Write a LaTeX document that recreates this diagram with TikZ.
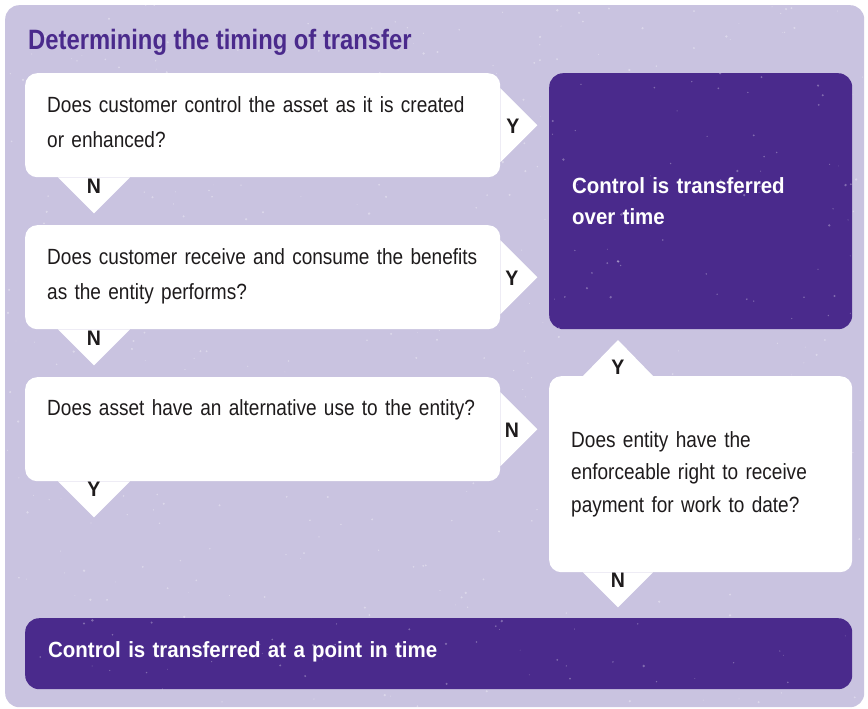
\documentclass[tikz,border=0pt]{standalone}
\usepackage{fontspec}
\setmainfont{Liberation Sans}
\newfontfamily\qfont[FakeStretch=0.865]{Liberation Sans}
\newfontfamily\hfont[FakeStretch=0.85]{Liberation Sans}
\newfontfamily\wfont[FakeStretch=0.93]{Liberation Sans}
\newcommand\qtxtfont{\qfont\fontsize{22}{35}\selectfont\spaceskip 5.3pt\relax}
\newcommand\qtxtfontb{\qfont\fontsize{22}{32.5}\selectfont\spaceskip 5.3pt\relax}
\newcommand\wtxtfont{\wfont\bfseries\fontsize{22}{32}\selectfont\spaceskip 5.7pt\relax}
\newcommand\ttltxtfont{\hfont\bfseries\fontsize{28}{28}\selectfont\spaceskip 6.6pt\relax}
\usetikzlibrary{calc}
\definecolor{lav}{RGB}{201,195,224}
\definecolor{deep}{RGB}{74,42,140}
\definecolor{ink}{RGB}{30,27,28}
\begin{document}
\begin{tikzpicture}[x=1pt,y=-1pt,
  panel/.style={fill=white, rounded corners=12pt, inner sep=0pt, anchor=north west},
  darkbox/.style={fill=deep, rounded corners=14pt, inner sep=0pt, anchor=north west},
  qtext/.style={anchor=base west, inner sep=0pt, text width=445pt, align=left, text=ink,
                font=\qtxtfont},
  wtext/.style={anchor=base west, inner sep=0pt, text width=440pt, align=left, text=white,
                font=\wtxtfont},
  yn/.style={inner sep=0pt, text=ink, font=\wfont\bfseries\fontsize{21}{21}\selectfont},
  pointer/.style={fill=white},
  speck/.style={fill=white}]

\path[use as bounding box] (0,0) rectangle (868,709);
\fill[white] (0,0) rectangle (868,709);
\node[fill=lav, rounded corners=14pt, inner sep=0pt, anchor=north west,
      minimum width=859pt, minimum height=702pt] (bg) at (5,5) {};

% light speckle texture on the panel
\pgfmathsetseed{4242}
\begin{scope}
  \clip[rounded corners=14pt] (bg.north west) rectangle (bg.south east);
  \foreach \i in {1,...,500}{
    \pgfmathsetmacro{\px}{5+859*rnd}
    \pgfmathsetmacro{\py}{5+702*rnd}
    \pgfmathsetmacro{\pr}{0.4+0.9*rnd}
    \fill[speck, opacity=0.35] (\px,\py) circle (\pr pt);
  }
\end{scope}

\node[anchor=base west, inner sep=0pt, text=deep, font=\ttltxtfont] (title) at (28,50)
      {Determining the timing of transfer};

% boxes
\node[panel, minimum width=475pt, minimum height=104pt] (q1) at (25,73) {};
\node[panel, minimum width=475pt, minimum height=104pt] (q2) at (25,225) {};
\node[panel, minimum width=475pt, minimum height=104pt] (q3) at (25,377) {};
\node[panel, minimum width=303pt, minimum height=196pt] (q4) at (549,376) {};
\node[darkbox, minimum width=303pt, minimum height=256pt] (r1) at (549,73) {};
\node[darkbox, minimum width=827pt, minimum height=71pt] (r2) at (25,618) {};

% speckles on the dark boxes
\foreach \bx in {r1,r2}{
  \begin{scope}
    \clip[rounded corners=14pt] (\bx.north west) rectangle (\bx.south east);
    \foreach \i in {1,...,350}{
      \pgfmathsetmacro{\px}{25+827*rnd}
      \pgfmathsetmacro{\py}{73+617*rnd}
      \pgfmathsetmacro{\pr}{0.4+1.0*rnd}
      \fill[speck, opacity=0.3] (\px,\py) circle (\pr pt);
    }
  \end{scope}
}

% pointers of the left questions
\foreach \b in {q1,q2,q3}{
  \fill[pointer] ($(\b.east)+(0,-37)$) -- ($(\b.east)+(37,0)$) -- ($(\b.east)+(0,37)$) -- cycle;
  \fill[pointer] ($(\b.south west)+(33,0)$) -- ($(\b.south west)+(69,36)$) -- ($(\b.south west)+(105,0)$) -- cycle;
}
% pointers of the last question
\fill[pointer] ($(q4.north west)+(34,0)$) -- ($(q4.north west)+(69,-36)$) -- ($(q4.north west)+(104,0)$) -- cycle;
\fill[pointer] ($(q4.south west)+(34,0)$) -- ($(q4.south west)+(69,35)$) -- ($(q4.south west)+(104,0)$) -- cycle;

% texts
\node[qtext] (t1) at (47,113) {Does customer control the asset as it is created\\or enhanced?};
\node[qtext] (t2) at (47,264) {Does customer receive and consume the benefits\\as the entity performs?};
\node[qtext] (t3) at (47,415) {Does asset have an alternative use to the entity?};
\node[qtext, text width=270pt, font=\qtxtfontb] (t4) at (571,447)
  {Does entity have the\\enforceable right to receive\\payment for work to date?};
\node[wtext, text width=270pt] (w1) at (572,193) {Control is transferred\\over time};
\node[wtext, text width=780pt] (w2) at (48,657) {Control is transferred at a point in time};

% Y / N labels
\node[yn] (y1) at (513,126) {Y};
\node[yn] (y2) at (512,278) {Y};
\node[yn] (n3) at (512,430) {N};
\node[yn] (n1) at (94,186) {N};
\node[yn] (n2) at (94,338) {N};
\node[yn] (y3) at (94,489) {Y};
\node[yn] (y4) at (618,367) {Y};
\node[yn] (n4) at (618,580) {N};
\end{tikzpicture}
\end{document}
